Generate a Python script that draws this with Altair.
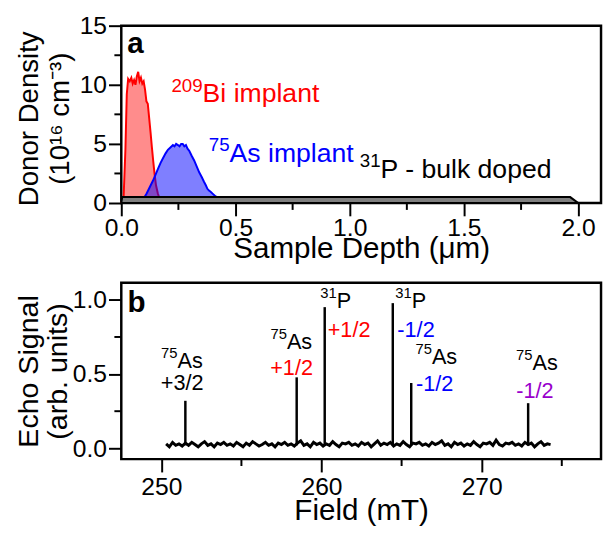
import altair as alt
import pandas as pd

FONT = "Liberation Sans"
RED = "#ff0000"
BLUE = "#0000ff"
PURPLE = "#9900cc"

# ---------------- Panel a: donor depth profiles ----------------
bi_depth = [0.0, 0.01, 0.018, 0.024, 0.03, 0.037, 0.044, 0.05, 0.056, 0.062, 0.068,
            0.074, 0.08, 0.086, 0.092, 0.098, 0.104, 0.11, 0.116, 0.122, 0.128,
            0.134, 0.14, 0.146, 0.152, 0.16, 0.168, 0.18, 0.2, 0.25, 0.3, 0.4, 0.5]
bi_density = [0.0, 0.4, 4.5, 9.2, 10.5, 10.3, 10.6, 10.1, 10.4, 10.0, 10.7,
              11.1, 10.3, 10.6, 10.1, 10.3, 9.6, 8.6, 8.4, 7.2, 6.0,
              4.7, 3.5, 2.4, 1.5, 0.8, 0.35, 0.15, 0.06, 0.03, 0.01, 0.0, 0.0]

as_depth = [0.0, 0.05, 0.08, 0.1, 0.111, 0.125, 0.139, 0.15, 0.161, 0.172, 0.183,
            0.194, 0.204, 0.215, 0.226, 0.233, 0.24, 0.248, 0.255, 0.262, 0.269,
            0.276, 0.283, 0.29, 0.298, 0.308, 0.319, 0.33, 0.341, 0.352, 0.362,
            0.37, 0.377, 0.384, 0.391, 0.402, 0.413, 0.427, 0.441, 0.46, 0.485,
            0.55, 0.7, 1.0]
as_density = [0.0, 0.05, 0.2, 0.45, 0.8, 1.35, 1.9, 2.4, 2.9, 3.4, 3.8,
              4.2, 4.5, 4.7, 4.9, 4.8, 5.0, 4.9, 4.8, 5.0, 5.0,
              4.8, 4.9, 4.6, 4.4, 4.0, 3.6, 3.1, 2.6, 2.2, 1.8,
              1.5, 1.2, 1.05, 0.95, 0.75, 0.55, 0.42, 0.3, 0.15, 0.08,
              0.03, 0.01, 0.0]

p_depth = [0.0, 0.004, 1.965, 2.0]
p_density = [0.0, 0.5, 0.5, 0.0]

depth_major = [0.0, 0.5, 1.0, 1.5, 2.0]
depth_minor = [0.25, 0.75, 1.25, 1.75]
dens_major = [0, 5, 10, 15]
dens_minor = [2.5, 7.5, 12.5]

label_a_text = ["Bi implant", "As implant", "P - bulk doped"]
label_a_sup = ["209", "75", "31"]
label_a_x = [0.356, 0.474, 1.135]
label_a_y = [9.17, 4.17, 2.78]
label_a_color = [RED, BLUE, "black"]

# ---------------- Panel b: echo-detected field sweep ----------------
field_start = 250.3
field_step = 0.2
baseline_signal = [
    0.03, 0.01, 0.04, 0.02, 0.03, 0.015, 0.035, 0.02, 0.04, 0.025,
    0.01, 0.03, 0.045, 0.02, 0.03, 0.01, 0.035, 0.025, 0.04, 0.02,
    0.03, 0.015, 0.04, 0.025, 0.01, 0.035, 0.02, 0.045, 0.03, 0.015,
    0.025, 0.04, 0.02, 0.03, 0.01, 0.035, 0.025, 0.04, 0.02, 0.03,
    0.015, 0.035, 0.05, 0.02, 0.03, 0.01, 0.04, 0.025, 0.035, 0.015,
    0.03, 0.02, 0.045, 0.025, 0.01, 0.035, 0.03, 0.04, 0.02, 0.03,
    0.015, 0.04, 0.025, 0.035, 0.01, 0.03, 0.05, 0.02, 0.035, 0.025,
    0.04, 0.015, 0.03, 0.02, 0.045, 0.025, 0.01, 0.035, 0.03, 0.04,
    0.02, 0.03, 0.015, 0.04, 0.025, 0.035, 0.05, 0.02, 0.03, 0.01,
    0.04, 0.025, 0.035, 0.015, 0.03, 0.02, 0.045, 0.025, 0.01, 0.035,
    0.03, 0.04, 0.02, 0.055, 0.025, 0.015, 0.035, 0.03, 0.04, 0.02,
    0.03, 0.015, 0.04, 0.025, 0.035, 0.01, 0.03, 0.045, 0.02, 0.03,
    0.025,
]
peak_field = [251.5, 258.45, 260.2, 264.45, 265.6, 272.9]
peak_height = [0.32, 0.478, 0.951, 0.978, 0.44, 0.304]
peak_foot = [0.02, 0.02, 0.02, 0.02, 0.02, 0.02]

field_major = [250, 260, 270]
field_minor = [255, 265, 275]
signal_major = [0.0, 0.5, 1.0]
signal_minor = [0.25, 0.75]

iso_sup = ["75", "75", "31", "31", "75", "75"]
iso_text = ["As", "As", "P", "P", "As", "As"]
iso_x = [251.01, 257.84, 260.95, 265.63, 266.89, 273.17]
iso_y = [0.59, 0.717, 0.993, 0.993, 0.613, 0.574]
spin_text = ["+3/2", "+1/2", "+1/2", "-1/2", "-1/2", "-1/2"]
spin_x = [251.3, 258.13, 261.72, 265.9, 267.06, 273.32]
spin_y = [0.44, 0.54, 0.795, 0.795, 0.43, 0.386]
spin_color = ["black", RED, RED, BLUE, BLUE, PURPLE]

W = 487
HA = 180
HB = 179
YT_X = -79

# ---------------- build panel a ----------------
bi_df = pd.DataFrame({"depth": bi_depth, "density": bi_density})
as_df = pd.DataFrame({"depth": as_depth, "density": as_density})
p_df = pd.DataFrame({"depth": p_depth, "density": p_density})
lab_a = pd.DataFrame({"x": label_a_x, "y": label_a_y, "text": label_a_text,
                      "sup": label_a_sup, "color": label_a_color})

xa_scale = alt.Scale(domain=[0, 2.1], nice=False, zero=False)
ya_scale = alt.Scale(domain=[0, 15], nice=False, zero=False)

xa = alt.X("depth:Q", scale=xa_scale,
           axis=alt.Axis(values=depth_major, format=".1f", title="Sample Depth (μm)",
                         labelFlush=False, labelPadding=0, titlePadding=-7, titleFontSize=30))
ya = alt.Y("density:Q", scale=ya_scale,
           axis=alt.Axis(values=dens_major, format="d", labelPadding=2, labelFlush=False,
                         title=["Donor Density", "(10¹⁶ cm⁻³)"], titleX=YT_X, titleY=HA / 2 + 4,
                         titleFontSize=28, titleLineHeight=31))

bi_area = alt.Chart(bi_df).mark_area(color=RED, opacity=0.45).encode(x=xa, y=ya)
bi_line = alt.Chart(bi_df).mark_line(color=RED, strokeWidth=2).encode(x="depth:Q", y="density:Q")
as_area = alt.Chart(as_df).mark_area(color=BLUE, opacity=0.5).encode(x="depth:Q", y="density:Q")
as_line = alt.Chart(as_df).mark_line(color=BLUE, strokeWidth=2).encode(x="depth:Q", y="density:Q")
p_area = alt.Chart(p_df).mark_area(color="#808080", stroke="black", strokeWidth=2,
                                   opacity=1).encode(x="depth:Q", y="density:Q")

ma_x = alt.Chart(pd.DataFrame({"v": depth_minor})).mark_rule(color="black", strokeWidth=2).encode(
    x="v:Q", y=alt.value(HA), y2=alt.value(HA + 7))
ma_y = alt.Chart(pd.DataFrame({"v": dens_minor})).mark_rule(color="black", strokeWidth=2).encode(
    y="v:Q", x=alt.value(0), x2=alt.value(-7))

lab_a_main = alt.Chart(lab_a).mark_text(font=FONT, fontSize=27, align="left", baseline="middle").encode(
    x="x:Q", y="y:Q", text="text:N", color=alt.Color("color:N", scale=None))
lab_a_sup = alt.Chart(lab_a).mark_text(font=FONT, fontSize=19, align="right", baseline="middle",
                                       dy=-9).encode(
    x="x:Q", y="y:Q", text="sup:N", color=alt.Color("color:N", scale=None))
tag_a = alt.Chart(pd.DataFrame({"x": [0.062], "y": [13.4], "t": ["a"]})).mark_text(
    font=FONT, fontSize=30, fontWeight="bold", baseline="middle", align="center").encode(
    x="x:Q", y="y:Q", text="t:N")

panel_a = alt.layer(bi_area, bi_line, as_area, as_line, p_area, ma_x, ma_y,
                    lab_a_main, lab_a_sup, tag_a).properties(width=W, height=HA)

# ---------------- build panel b ----------------
base_df = pd.DataFrame({
    "field": [round(field_start + field_step * i, 3) for i in range(len(baseline_signal))],
    "signal": baseline_signal,
})
peak_df = pd.DataFrame({"field": peak_field, "signal": peak_height, "foot": peak_foot})
iso_df = pd.DataFrame({"x": iso_x, "y": iso_y, "text": iso_text, "sup": iso_sup})
spin_df = pd.DataFrame({"x": spin_x, "y": spin_y, "text": spin_text, "color": spin_color})

xb_scale = alt.Scale(domain=[247.5, 277.45], nice=False, zero=False)
yb_scale = alt.Scale(domain=[-0.073, 1.115], nice=False, zero=False)

xb = alt.X("field:Q", scale=xb_scale,
           axis=alt.Axis(values=field_major, format="d", title="Field (mT)", labelFlush=False,
                         labelPadding=3, titlePadding=-4, titleFontSize=30))
yb = alt.Y("signal:Q", scale=yb_scale,
           axis=alt.Axis(values=signal_major, format=".1f", labelPadding=2, labelFlush=False,
                         title=["Echo Signal", "(arb. units)"], titleX=YT_X,
                         titleFontSize=29, titleLineHeight=29))

base_line = alt.Chart(base_df).mark_line(color="black", strokeWidth=3).encode(x=xb, y=yb)
peaks = alt.Chart(peak_df).mark_rule(color="black", strokeWidth=2.5).encode(
    x="field:Q", y="foot:Q", y2="signal")

mb_x = alt.Chart(pd.DataFrame({"v": field_minor})).mark_rule(color="black", strokeWidth=2).encode(
    x="v:Q", y=alt.value(HB), y2=alt.value(HB + 7))
mb_y = alt.Chart(pd.DataFrame({"v": signal_minor})).mark_rule(color="black", strokeWidth=2).encode(
    y="v:Q", x=alt.value(0), x2=alt.value(-7))

iso_main = alt.Chart(iso_df).mark_text(font=FONT, fontSize=22, align="left", baseline="middle",
                                       color="black").encode(x="x:Q", y="y:Q", text="text:N")
iso_sup_t = alt.Chart(iso_df).mark_text(font=FONT, fontSize=15, align="right", baseline="middle",
                                        dy=-8, color="black").encode(x="x:Q", y="y:Q", text="sup:N")
spin_t = alt.Chart(spin_df).mark_text(font=FONT, fontSize=22, align="center", baseline="middle").encode(
    x="x:Q", y="y:Q", text="text:N", color=alt.Color("color:N", scale=None))
tag_b = alt.Chart(pd.DataFrame({"x": [248.45], "y": [0.977], "t": ["b"]})).mark_text(
    font=FONT, fontSize=30, fontWeight="bold", baseline="middle", align="center").encode(
    x="x:Q", y="y:Q", text="t:N")

panel_b = alt.layer(base_line, peaks, mb_x, mb_y, iso_main, iso_sup_t, spin_t, tag_b).properties(
    width=W, height=HB)

chart = alt.vconcat(panel_a, panel_b, spacing=16).properties(
    padding={"left": 5, "top": 0, "right": 0, "bottom": 0},
    background="white",
).configure_view(
    stroke="black", strokeWidth=2.5
).configure_axis(
    labelFont=FONT, titleFont=FONT, labelFontSize=25, labelFlush=False, labelOverlap=False,
    titleFontWeight="normal", labelColor="black", titleColor="black",
    tickColor="black", tickWidth=2, tickSize=13, domain=False, grid=False
)

chart.save("out.html", embed_options={"renderer": "svg", "actions": False})
